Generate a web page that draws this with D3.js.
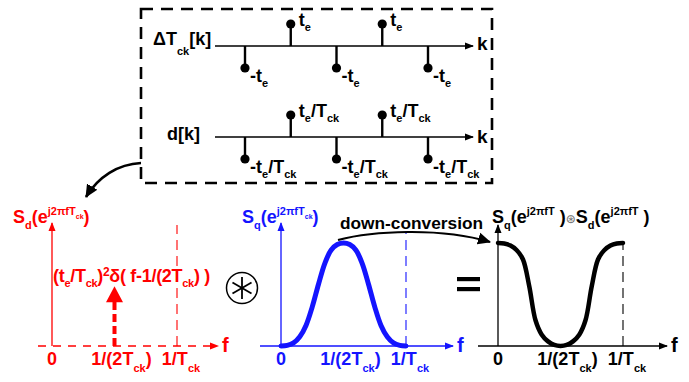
<!DOCTYPE html>
<html>
<head>
<meta charset="utf-8">
<script src="https://cdn.jsdelivr.net/npm/d3@7"></script>
<style>
html,body{margin:0;padding:0;background:#fff;}
svg{display:block;font-family:"Liberation Sans",Arial,sans-serif;font-weight:bold;}
text{white-space:pre;}
</style>
</head>
<body>
<svg id="chart" width="689" height="382"></svg>
<script>
// ---- data ----
const kIndex = [0, 1, 2, 3, 4]
const deltaT = [-1, 1, -1, 1, -1] // ΔTck[k] in units of te (d[k] in units of te/Tck)

const freq = [0,0.05,0.1,0.15,0.2,0.25,0.3,0.35,0.4,0.45,0.5,0.55,0.6,0.65,0.7,0.75,0.8,0.85,0.9,0.95,1]
const sqMag = [0,0.006,0.03,0.09,0.2,0.38,0.6,0.8,0.93,0.985,1,0.985,0.93,0.8,0.6,0.38,0.2,0.09,0.03,0.006,0]
const convMag = [1,0.995,0.975,0.93,0.84,0.58,0.25,0.11,0.045,0.01,0,0.01,0.045,0.11,0.25,0.58,0.84,0.93,0.975,0.995,1]
const deltaF = [0.5]
const deltaMag = [0.58]

const tickF = [0, 0.5, 1]
const tickText = [
	[['0',0]],
	[['1/(2T',0],['ck',-1],[')',0]],
	[['1/T',0],['ck',-1]]
]
const tickShift = [0, 7, 4]

const svg = d3.select('#chart')

// text with sub / superscripts: level 0 normal, -1 sub, 1 sup, 2 sub inside sup
const rich = (g, x, y, parts, o = {})=>{
	let size = o.size || 18
	let t = g.append('text')
		.attr('x', x).attr('y', y)
		.attr('font-size', size)
		.attr('fill', o.fill || '#000')
		.attr('text-anchor', o.anchor || 'start')
	if(o.ls) t.attr('letter-spacing', o.ls)
	let cur = 0
	parts.forEach(([s, l])=>{
		let off = 0, fs = size
		if(l == -1){ off = o.sub || 6; fs = o.subSize || 11 }
		if(l == 1){ off = -(o.sup || 8); fs = o.supSize || 11 }
		if(l == 2){ off = -(o.ss || 4); fs = 7 }
		t.append('tspan').attr('dy', off - cur).attr('font-size', fs).text(s)
		cur = off
	})
	return t
}

// markers
const defs = svg.append('defs')
const marker = (id, len, hw, color)=>{
	defs.append('marker')
		.attr('id', id)
		.attr('markerUnits', 'userSpaceOnUse')
		.attr('markerWidth', len + 2).attr('markerHeight', hw * 2 + 2)
		.attr('viewBox', `0 ${-hw - 1} ${len + 2} ${hw * 2 + 2}`)
		.attr('refX', len - 1).attr('refY', 0)
		.attr('orient', 'auto')
		.append('path')
		.attr('d', `M0,${-hw}L${len},0L0,${hw}Z`)
		.attr('fill', color)
}
marker('ahK', 9, 3.5, '#000')
marker('ahR', 9, 3.5, '#ff0000')
marker('ahB', 9, 3.5, '#1414ff')
marker('ahBig', 13, 6, '#000')

// ---- top dashed box with the two stem plots ----
svg.append('rect')
	.attr('x', 141).attr('y', 9)
	.attr('width', 351).attr('height', 174)
	.attr('fill', 'none')
	.attr('stroke', '#000')
	.attr('stroke-width', 2.6)
	.attr('stroke-dasharray', '12,8')

const xk = d3.scaleLinear().domain([0, 4]).range([245, 428])

const rows = [
	{
		y: d3.scaleLinear().domain([-1, 1]).range([68, 24]),
		name: [['ΔT',0],['ck',-1],['[k]',0]], nameX: 153, nameDy: -1, nameSub: 10,
		pos: [['t',0],['e',-1]],
		neg: [['-t',0],['e',-1]],
		kDy: 4
	},
	{
		y: d3.scaleLinear().domain([-1, 1]).range([159, 115]),
		name: [['d[k]',0]], nameX: 167, nameDy: 3, nameSub: 6,
		pos: [['t',0],['e',-1],['/T',0],['ck',-1]],
		neg: [['-t',0],['e',-1],['/T',0],['ck',-1]],
		kDy: 6
	}
]

rows.forEach(r=>{
	let g = svg.append('g')
	let y0 = r.y(0)
	g.append('line')
		.attr('x1', 215).attr('x2', 473)
		.attr('y1', y0).attr('y2', y0)
		.attr('stroke', '#000').attr('stroke-width', 1.3)
		.attr('marker-end', 'url(#ahK)')
	rich(g, r.nameX, y0 + r.nameDy, r.name, {sub: r.nameSub})
	rich(g, 477, y0 + r.kDy, [['k',0]], {size: 19})

	g.selectAll('.stem')
		.data(kIndex)
		.enter()
		.append('line')
		.attr('x1', d => xk(d)).attr('x2', d => xk(d))
		.attr('y1', y0).attr('y2', d => r.y(deltaT[d]))
		.attr('stroke', '#000').attr('stroke-width', 2.4)

	g.selectAll('.dot')
		.data(kIndex)
		.enter()
		.append('circle')
		.attr('cx', d => xk(d)).attr('cy', d => r.y(deltaT[d]))
		.attr('r', 4.6)
		.attr('fill', '#000')

	kIndex.forEach(k=>{
		let up = deltaT[k] > 0
		let x = xk(k) + (up ? 8 : 5)
		let y = r.y(deltaT[k]) + (up ? 2 : 14)
		rich(g, x, y, up ? r.pos : r.neg, {sub: 5})
	})
})

// arrow from the box to the Sd panel
svg.append('path')
	.attr('d', 'M141,163 C118,164 98,177 86,197')
	.attr('fill', 'none')
	.attr('stroke', '#000').attr('stroke-width', 2.6)
	.attr('marker-end', 'url(#ahBig)')

// ---- spectrum panels ----
const yS = d3.scaleLinear().domain([0, 1]).range([346, 243])

const panels = [
	{
		x0: 52, color: '#ff0000', mk: 'ahR', tx: 13,
		title: [['S',0],['d',-1],['(e',0],['j2πfT',1],['ck',2],[')',0]],
		axL: 38, axR: 218, yTop: 223, vTop: 225, dashedAxis: true
	},
	{
		x0: 281, color: '#1414ff', mk: 'ahB', tx: 242,
		title: [['S',0],['q',-1],['(e',0],['j2πfT',1],['ck',2],[')',0]],
		axL: 260, axR: 453, yTop: 223, vTop: 233, mag: sqMag, width: 5
	},
	{
		x0: 498, color: '#000', mk: 'ahK', tx: 492,
		title: [['S',0],['q',-1],['(e',0],['j2πfT',1],[' )',0],['⊛',0],['S',0],['d',-1],['(e',0],['j2πfT',1],[' )',0]],
		axL: 478, axR: 667, yTop: 225, vTop: 243, mag: convMag, width: 4.5
	}
]

panels.forEach(p=>{
	let g = svg.append('g')
	let x = d3.scaleLinear().domain([0, 1]).range([p.x0, p.x0 + 125])

	// f axis
	g.append('line')
		.attr('x1', p.axL).attr('x2', p.axR)
		.attr('y1', yS(0)).attr('y2', yS(0))
		.attr('stroke', p.color).attr('stroke-width', 1.3)
		.attr('stroke-dasharray', p.dashedAxis ? '8,7' : null)
		.attr('marker-end', `url(#${p.mk})`)
	rich(g, p.axR + 4, yS(0) + 6, [['f',0]], {fill: p.color, size: 20})

	// vertical axis
	g.append('line')
		.attr('x1', x(0)).attr('x2', x(0))
		.attr('y1', yS(0)).attr('y2', p.yTop)
		.attr('stroke', p.color).attr('stroke-width', 1.3)
		.attr('marker-end', `url(#${p.mk})`)

	// dashed line at 1/Tck
	g.append('line')
		.attr('x1', x(1)).attr('x2', x(1))
		.attr('y1', yS(0)).attr('y2', p.vTop)
		.attr('stroke', p.color).attr('stroke-width', 1.1)
		.attr('stroke-dasharray', '10,6')

	// title
	let tt = rich(g, p.tx, 223, p.title, {fill: p.color, sub: 6, sup: 8, ss: 4})
	tt.selectAll('tspan').filter(function(){ return this.textContent == '⊛' })
		.attr('font-size', 12).attr('font-weight', 'normal').attr('fill', '#666')
		.attr('font-family', 'DejaVu Sans')

	// tick labels
	tickF.forEach((f, i)=>{
		rich(g, x(f) + tickShift[i], 365, tickText[i], {fill: p.color, anchor: 'middle', sub: 7})
	})

	// curve
	if(p.mag){
		let line = d3.line()
			.x((d, i) => x(freq[i]))
			.y(d => yS(d))
			.curve(d3.curveCatmullRom)
		g.append('path')
			.datum(p.mag)
			.attr('d', line)
			.attr('fill', 'none')
			.attr('stroke', p.color)
			.attr('stroke-width', p.width)
			.attr('stroke-linecap', 'round')
	}
	p.x = x
})

// delta arrow in the Sd panel
const xr = panels[0].x
deltaF.forEach((f, i)=>{
	let tip = yS(deltaMag[i])
	svg.append('line')
		.attr('x1', xr(f)).attr('x2', xr(f))
		.attr('y1', yS(0)).attr('y2', tip + 14)
		.attr('stroke', '#ff0000').attr('stroke-width', 4)
		.attr('stroke-dasharray', '8,4')
	svg.append('path')
		.attr('d', `M${xr(f) - 8.5},${tip + 16}L${xr(f)},${tip}L${xr(f) + 8.5},${tip + 16}Z`)
		.attr('fill', '#ff0000')
})
rich(svg, 53, 282,
	[['(t',0],['e',-1],['/T',0],['ck',-1],[')',0],['2',1],['δ( f-1/(2T',0],['ck',-1],[') )',0]],
	{fill: '#ff0000', sub: 5, sup: 6, supSize: 12, ls: -0.3})

// convolution sign
const conv = svg.append('g').attr('transform', 'translate(242,288)')
conv.append('circle').attr('r', 15.5).attr('fill', 'none').attr('stroke', '#000').attr('stroke-width', 1.5)
;[90, 30, 150].forEach(a=>{
	let rad = a * Math.PI / 180
	conv.append('line')
		.attr('x1', -11 * Math.cos(rad)).attr('y1', -11 * Math.sin(rad))
		.attr('x2', 11 * Math.cos(rad)).attr('y2', 11 * Math.sin(rad))
		.attr('stroke', '#000').attr('stroke-width', 1.8)
})

// equals sign
;[279, 289].forEach(y=>{
	svg.append('rect')
		.attr('x', 457).attr('y', y - 2)
		.attr('width', 23).attr('height', 4.2)
		.attr('fill', '#000')
})

// down-conversion arrow
svg.append('path')
	.attr('d', 'M338,240 C372,231 440,227 490,242')
	.attr('fill', 'none')
	.attr('stroke', '#000').attr('stroke-width', 2.2)
	.attr('marker-end', 'url(#ahBig)')
rich(svg, 340, 229, [['down-conversion',0]], {size: 17.3})
</script>
</body>
</html>
